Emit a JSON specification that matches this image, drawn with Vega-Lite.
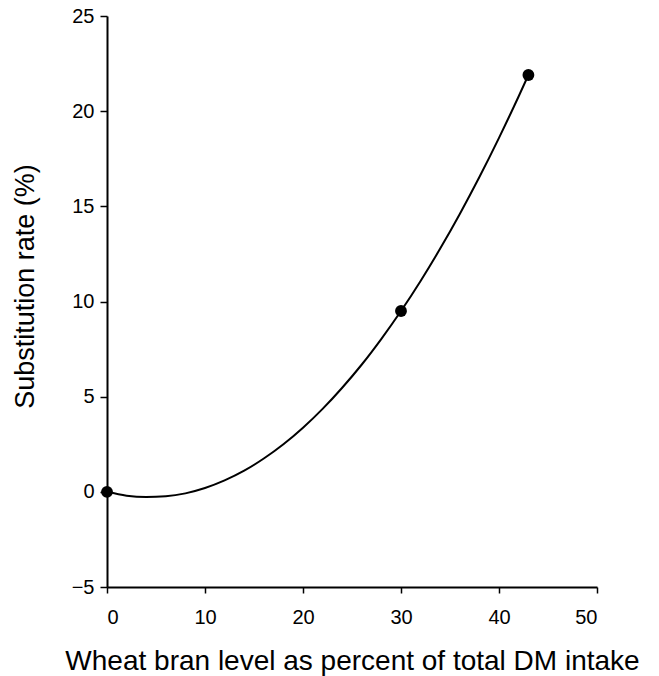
{
  "$schema": "https://vega.github.io/schema/vega-lite/v6.json",
  "autosize": "none",
  "width": 490,
  "height": 571,
  "padding": {"left": 107, "top": 16, "right": 62, "bottom": 89},
  "background": "white",
  "config": {"view": {"stroke": null}, "font": "Liberation Sans"},
  "datasets": {
    "curve": [
      {"x": 0, "y": 0}, {"x": 2, "y": -0.2}, {"x": 4, "y": -0.27}, {"x": 6, "y": -0.23},
      {"x": 8, "y": -0.08}, {"x": 10, "y": 0.2}, {"x": 12, "y": 0.6}, {"x": 14, "y": 1.11},
      {"x": 16, "y": 1.75}, {"x": 18, "y": 2.5}, {"x": 20, "y": 3.37}, {"x": 22, "y": 4.36},
      {"x": 24, "y": 5.47}, {"x": 26, "y": 6.69}, {"x": 28, "y": 8.04}, {"x": 30, "y": 9.5},
      {"x": 32, "y": 11.08}, {"x": 34, "y": 12.78}, {"x": 36, "y": 14.6}, {"x": 38, "y": 16.54},
      {"x": 40, "y": 18.6}, {"x": 42, "y": 20.77}, {"x": 43, "y": 21.9}
    ],
    "points": [
      {"x": 0, "y": 0}, {"x": 30, "y": 9.5}, {"x": 43, "y": 21.9}
    ]
  },
  "layer": [
    {
      "data": {"name": "curve"},
      "mark": {"type": "line", "color": "black", "strokeWidth": 2, "interpolate": "monotone"},
      "encoding": {
        "x": {
          "field": "x", "type": "quantitative",
          "scale": {"domain": [0, 50], "nice": false, "zero": false},
          "axis": {
            "title": "Wheat bran level as percent of total DM intake",
            "values": [0, 10, 20, 30, 40, 50],
            "grid": false, "domainColor": "black", "domainWidth": 2,
            "tickColor": "black", "tickWidth": 1.5, "tickSize": 6,
            "labelFont": "Liberation Sans", "labelFontSize": 20, "labelColor": "black", "labelPadding": 14,
            "titleFont": "Liberation Sans", "titleFontSize": 28, "titleFontWeight": "normal",
            "titleColor": "black", "titlePadding": 20
          }
        },
        "y": {
          "field": "y", "type": "quantitative",
          "scale": {"domain": [-5, 25], "nice": false, "zero": false},
          "axis": {
            "title": "Substitution rate (%)",
            "values": [-5, 0, 5, 10, 15, 20, 25],
            "grid": false, "domainColor": "black", "domainWidth": 2,
            "tickColor": "black", "tickWidth": 1.5, "tickSize": 7,
            "labelFont": "Liberation Sans", "labelFontSize": 20, "labelColor": "black", "labelPadding": 6,
            "titleFont": "Liberation Sans", "titleFontSize": 27, "titleFontWeight": "normal",
            "titleColor": "black", "titlePadding": 32, "titleY": 270
          }
        }
      }
    },
    {
      "data": {"name": "points"},
      "mark": {"type": "circle", "color": "black", "opacity": 1, "size": 140},
      "encoding": {
        "x": {"field": "x", "type": "quantitative"},
        "y": {"field": "y", "type": "quantitative"}
      }
    }
  ]
}
